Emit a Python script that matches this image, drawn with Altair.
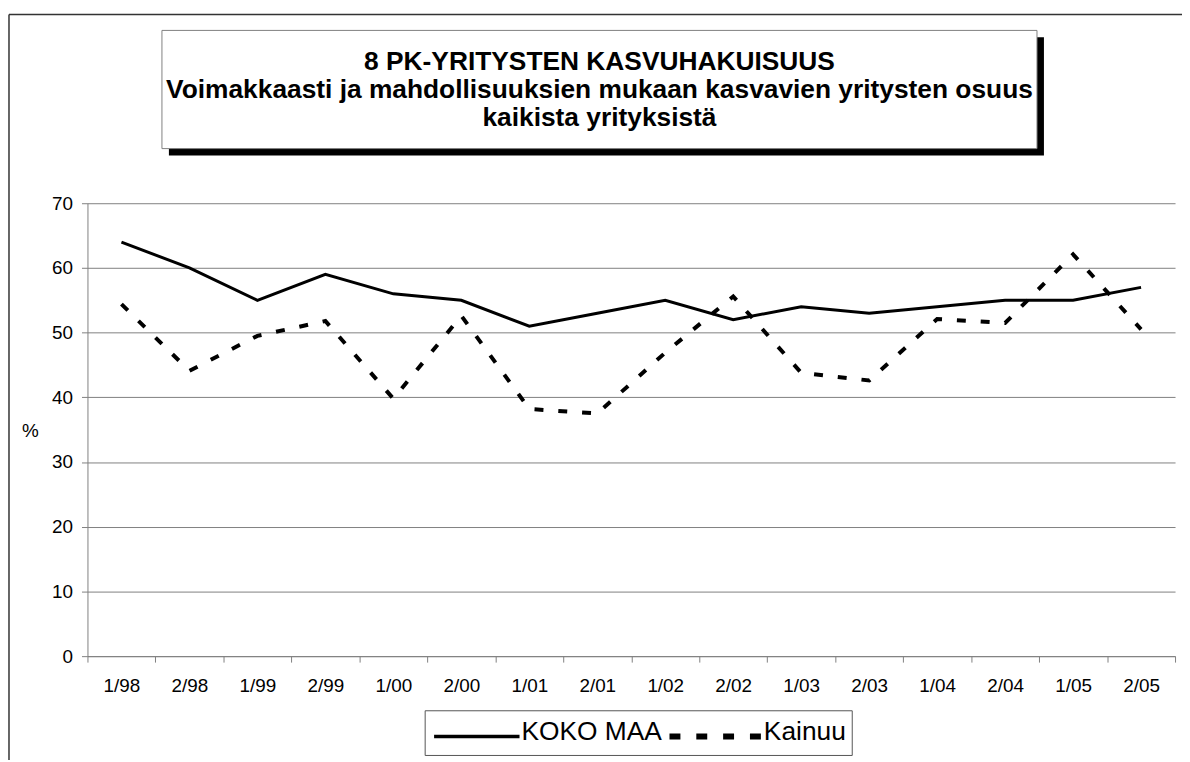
import altair as alt
import pandas as pd

periods = ["1/98", "2/98", "1/99", "2/99", "1/00", "2/00", "1/01", "2/01",
           "1/02", "2/02", "1/03", "2/03", "1/04", "2/04", "1/05", "2/05"]
koko_maa = [64, 60, 55, 59, 56, 55, 51, 53, 55, 52, 54, 53, 54, 55, 55, 57]
kainuu = [54.4, 44.1, 49.5, 51.8, 39.8, 52.6, 38.2, 37.5, 46.9, 55.6, 43.8, 42.6,
          52.1, 51.5, 62.1, 50.5]
series_names = ["KOKO MAA", "Kainuu"]
title_lines = ["8 PK-YRITYSTEN KASVUHAKUISUUS",
               "Voimakkaasti ja mahdollisuuksien mukaan kasvavien yritysten osuus",
               "kaikista yrityksistä"]
y_ticks = [0, 10, 20, 30, 40, 50, 60, 70]

FONT = "Liberation Sans"
W, H = 1095, 456

df_koko = pd.DataFrame({"period": periods, "value": koko_maa, "series": series_names[0]})
df_kai = pd.DataFrame({"period": periods, "value": kainuu, "series": series_names[1]})

x_enc = alt.X(
    "period:N", sort=periods, bandPosition=0.5,
    scale=alt.Scale(type="band", paddingInner=0, paddingOuter=0),
    axis=alt.Axis(title=None, labelAngle=0, tickBand="extent", labelFont=FONT,
                  labelFontSize=19, labelColor="black", domainColor="#808080",
                  tickColor="#808080", tickSize=6, labelPadding=15, grid=False),
)
y_enc = alt.Y(
    "value:Q", scale=alt.Scale(domain=[0, 70], nice=False, zero=True),
    axis=alt.Axis(values=y_ticks, title="%", titleAngle=0, titleX=-58, titleY=229,
                  titleAlign="center", titleBaseline="middle", titleFont=FONT,
                  titleFontSize=19, titleFontWeight="normal", titleColor="black",
                  labelFont=FONT, labelFontSize=19, labelColor="black",
                  labelPadding=9, tickSize=6, tickColor="#808080",
                  domainColor="#808080", grid=True, gridColor="#808080",
                  gridWidth=1),
)

line_koko = alt.Chart(df_koko).mark_line(color="black", strokeWidth=3).encode(x=x_enc, y=y_enc)
line_kai = alt.Chart(df_kai).mark_line(color="black", strokeWidth=4, strokeDash=[9, 15]).encode(x=x_enc, y=y_enc)


def one(**kw):
    return pd.DataFrame([kw])


# outer frame (left and top edges visible)
frame_top = alt.Chart(one(a=1)).mark_rule(color="#333333", strokeWidth=1.5).encode(
    x=alt.value(-79), x2=alt.value(1105), y=alt.value(-190))
frame_left = alt.Chart(one(a=1)).mark_rule(color="#333333", strokeWidth=1.5).encode(
    x=alt.value(-79), y=alt.value(-190), y2=alt.value(570))

# title box with shadow
shadow = alt.Chart(one(a=1)).mark_rect(color="black").encode(
    x=alt.value(82), x2=alt.value(963), y=alt.value(-167), y2=alt.value(-48))
tbox = alt.Chart(one(a=1)).mark_rect(fill="white", stroke="#808080", strokeWidth=1).encode(
    x=alt.value(75), x2=alt.value(956), y=alt.value(-174), y2=alt.value(-55))
title_df = pd.DataFrame({"t": title_lines, "yy": [-142, -114, -86]})
ttext = alt.Chart(title_df).mark_text(font=FONT, fontSize=26.5, fontWeight="bold",
                                       color="black", align="center", baseline="middle").encode(
    x=alt.value(515.5), y=alt.Y("yy:Q", scale=None), text="t:N")

# legend
lbox = alt.Chart(one(a=1)).mark_rect(fill="white", stroke="#555555", strokeWidth=1).encode(
    x=alt.value(340), x2=alt.value(770), y=alt.value(511), y2=alt.value(556))
lsolid = alt.Chart(one(a=1)).mark_rule(color="black", strokeWidth=3.5).encode(
    x=alt.value(349), x2=alt.value(435), y=alt.value(537))
ldash = alt.Chart(one(a=1)).mark_rule(color="black", strokeWidth=6, strokeDash=[11, 16]).encode(
    x=alt.value(586), x2=alt.value(678), y=alt.value(537))
ltext = alt.Chart(pd.DataFrame({"t": series_names, "xx": [437, 681]})).mark_text(
    font=FONT, fontSize=26.5, color="black", align="left", baseline="middle").encode(
    x=alt.X("xx:Q", scale=None), y=alt.value(532), text="t:N")

chart = alt.layer(
    frame_top, frame_left, shadow, tbox, ttext, line_koko, line_kai, lbox, lsolid, ldash, ltext
).resolve_scale(x="shared").properties(
    width=W, height=H,
    autosize=alt.AutoSizeParams(type="none"),
    padding={"left": 80, "top": 194, "right": 7, "bottom": 102},
    background="white",
).configure_view(stroke=None)

chart.save("out.html", embed_options={"renderer": "svg", "actions": False})
